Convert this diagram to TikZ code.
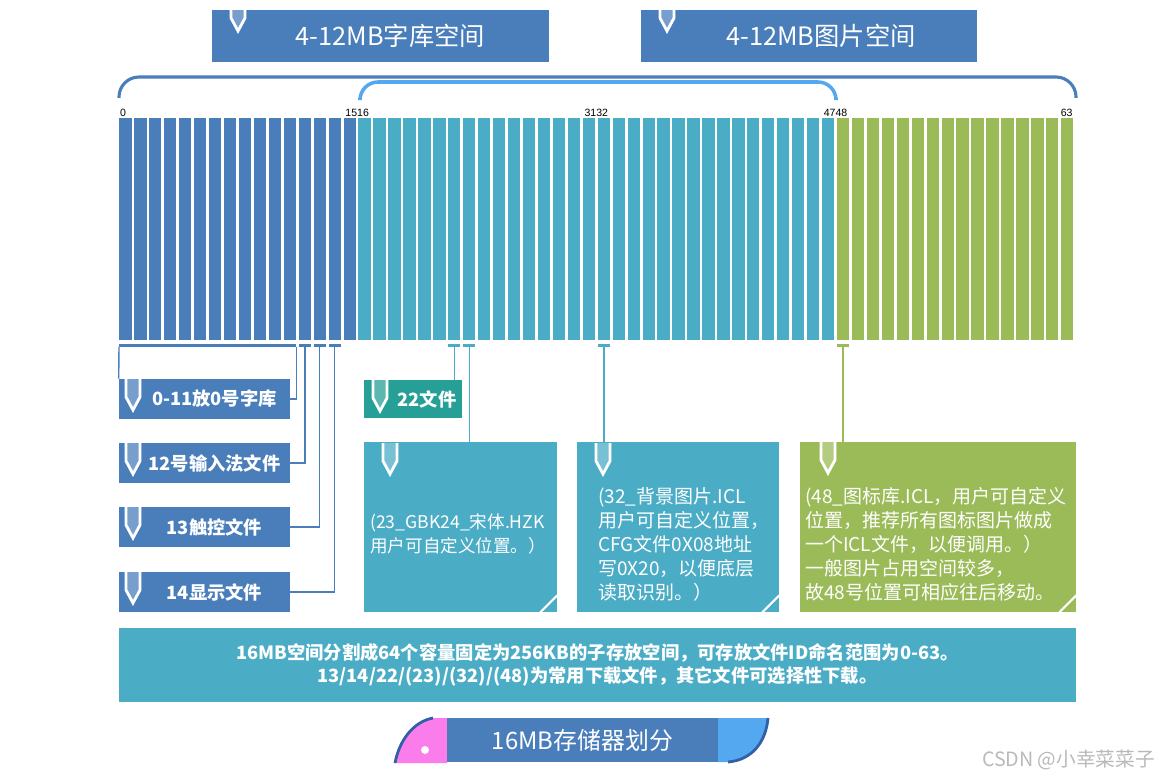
\documentclass[tikz,border=0pt]{standalone}
\usepackage{fontspec}
\setmainfont{Noto Sans CJK SC}
\newfontfamily\digits{Liberation Sans}
\usetikzlibrary{positioning,calc}

\definecolor{steel}{RGB}{74,126,187}
\definecolor{aqua}{RGB}{75,172,198}
\definecolor{leaf}{RGB}{155,187,89}
\definecolor{tealbox}{RGB}{38,160,150}
\definecolor{skyblue}{RGB}{84,168,240}
\definecolor{rosy}{RGB}{250,125,235}
\definecolor{deepblue}{RGB}{50,95,165}

\tikzset{
  cell/.style={fill=#1, inner sep=0, minimum width=0.3075cm, minimum height=5.55cm, anchor=north west},
  tab/.style={fill=#1, inner sep=0, minimum width=0.3075cm, minimum height=0.075cm},
  plate/.style={fill=#1, text=white, inner sep=0},
  note/.style={text=white, align=left, inner sep=0, font=\fontsize{13.5}{17}\selectfont},
  num/.style={font=\digits\fontsize{7.5}{8}\selectfont, inner sep=0.6pt},
  link/.style={draw=#1, line width=1pt},
  nib/.pic={
    \fill[white, opacity=.25] (-8,0) -- (-8,18) -- (0,33) -- (8,18) -- (8,0) -- cycle;
    \draw[white, line width=2pt] (-7,0) -- (-7,18) -- (0,31) -- (7,18) -- (7,0);
  },
}

\begin{document}
\begin{tikzpicture}[x=0.025cm, y=-0.025cm]
\useasboundingbox (0,0) rectangle (1166,781);

% headers
\node[plate=steel, minimum width=8.425cm, minimum height=1.3cm, font=\fontsize{18}{20}\selectfont] (hfont) at (380.5,36) {\hspace*{0.5cm}4-12MB字库空间};
\node[plate=steel, minimum width=8.4cm, minimum height=1.3cm, font=\fontsize{18}{20}\selectfont] (hpic) at (809,36) {\hspace*{0.6cm}4-12MB图片空间};
\pic at (238,0) {nib};
\pic at (667,0) {nib};

% brackets over the cells
\draw[skyblue, line width=2.5pt, rounded corners=0.45cm] (360,98) -- (360,82) -- (836,82) -- (836,98);
\draw[steel, line width=2.2pt, rounded corners=0.5cm] (119,98) -- (119,77) -- (1076,77) -- (1076,98);

% 64 cells
\foreach \i in {0,...,63}{%
  \ifnum\i<16 \def\tone{steel}\else\ifnum\i<48 \def\tone{aqua}\else\def\tone{leaf}\fi\fi
  \node[cell=\tone] (bar\i) at ({119+\i*14.95},118) {};
}
\node[num, anchor=south west] (n0) at (bar0.north west) {0};
\node[num, anchor=south] (n15) at ($(bar15.north east)!.5!(bar16.north west)$) {1516};
\node[num, anchor=south] (n31) at ($(bar31.north east)!.5!(bar32.north west)$) {3132};
\node[num, anchor=south] (n47) at ($(bar47.north east)!.5!(bar48.north west)$) {4748};
\node[num, anchor=south east] (n63) at (bar63.north east) {63};

% tabs under the cells
\node[tab=steel, anchor=north west, minimum width=4.419cm] (t0) at ($(bar0.south west)+(0,3)$) {};
\foreach \k in {12,13,14} \node[tab=steel, below=0.075cm of bar\k] (t\k) {};
\foreach \k in {22,23,32} \node[tab=aqua, below=0.075cm of bar\k] (t\k) {};
\node[tab=leaf, below=0.075cm of bar48] (t48) {};

% left labels
\node[plate=steel, minimum width=4.275cm, minimum height=1cm, font=\bfseries\fontsize{13}{15}\selectfont] (lb1) at (204.5,399) {\hspace*{0.5cm}0-11放0号字库};
\node[plate=steel, minimum width=4.275cm, minimum height=1cm, font=\bfseries\fontsize{13}{15}\selectfont] (lb2) at (204.5,463) {\hspace*{0.5cm}12号输入法文件};
\node[plate=steel, minimum width=4.275cm, minimum height=1cm, font=\bfseries\fontsize{13}{15}\selectfont] (lb3) at (204.5,527) {\hspace*{0.5cm}13触控文件};
\node[plate=steel, minimum width=4.275cm, minimum height=1cm, font=\bfseries\fontsize{13}{15}\selectfont] (lb4) at (204.5,592) {\hspace*{0.5cm}14显示文件};
\foreach \y in {379,443,507,572} \pic at (133,\y) {nib};

\node[plate=tealbox, minimum width=2.45cm, minimum height=0.95cm, font=\bfseries\fontsize{13}{15}\selectfont] (f22) at (413,399) {\hspace*{0.7cm}22文件};
\pic at (380,380) {nib};

% file boxes
\node[plate=aqua, minimum width=4.825cm, minimum height=4.25cm] (b23) at (460.5,527) {};
\node[plate=aqua, minimum width=5.05cm, minimum height=4.25cm] (b32) at (678,527) {};
\node[plate=leaf, minimum width=6.9cm, minimum height=4.25cm] (b48) at (938,527) {};
\pic at (390,443) {nib};
\pic at (603,443) {nib};
\pic at (828,442) {nib};
\foreach \b in {b23,b32,b48}
  \draw[white, line width=1.5pt] ($(\b.south east)+(0,-17)$) -- ($(\b.south east)+(-17,0)$);
\node[note, anchor=west, font=\fontsize{12.5}{17}\selectfont] (x23) at (370,533.5) {(23\_GBK24\_宋体.HZK\\用户可自定义位置。）};
\node[note, anchor=west] (x32) at (598,544.5) {(32\_背景图片.ICL\\用户可自定义位置，\\CFG文件0X08地址\\写0X20，以便底层\\读取识别。）};
\node[note, anchor=west] (x48) at (805,544.5) {(48\_图标库.ICL，用户可自定义\\位置，推荐所有图标图片做成\\一个ICL文件，以便调用。）\\一般图片占用空间较多，\\故48号位置可相应往后移动。};

% connectors
\draw[link=steel] (t0.south west) -- (lb1.north west);
\draw[link=steel] (t0.south east) |- (lb1.east);
\draw[link=steel] (t12.south) |- (lb2.east);
\draw[link=steel] (t13.south) |- (lb3.east);
\draw[link=steel] (t14.south) |- (lb4.east);
\draw[link=aqua] (t22.south) -- (t22.south |- f22.north);
\draw[link=aqua] (t23.south) -- (t23.south |- b23.north);
\draw[link=aqua] (t32.south) -- (t32.south |- b32.north);
\draw[link=leaf] (t48.south) -- (t48.south |- b48.north);

% summary
\node[plate=aqua, minimum width=23.925cm, minimum height=1.85cm, align=center, font=\bfseries\fontsize{13}{16.5}\selectfont] (sum) at (597.5,665) {16MB空间分割成64个容量固定为256KB的子存放空间，可存放文件ID命名范围为0-63。\\13/14/22/(23)/(32)/(48)为常用下载文件，其它文件可选择性下载。};

% title
\fill[rosy] (447,718) -- (433,718) .. controls (412,722) and (399,742) .. (395,763) -- (447,763) -- cycle;
\draw[deepblue, line width=2pt] (433,718) .. controls (412,722) and (399,742) .. (395,763);
\fill[white] (425,750) circle (4);
\fill[skyblue] (718,718) -- (768,718) .. controls (766,742) and (752,760) .. (728,762) -- (718,762) -- cycle;
\draw[deepblue, line width=2pt] (768,718) .. controls (766,742) and (752,760) .. (728,762);
\node[plate=steel, minimum width=6.775cm, minimum height=1.1cm, font=\fontsize{17}{19}\selectfont] (ttl) at (582.5,740) {16MB存储器划分};

\node[text=gray!55, font=\fontsize{14}{16}\selectfont, anchor=east] (mark) at (1160,760) {CSDN @小幸菜菜子};
\end{tikzpicture}
\end{document}
